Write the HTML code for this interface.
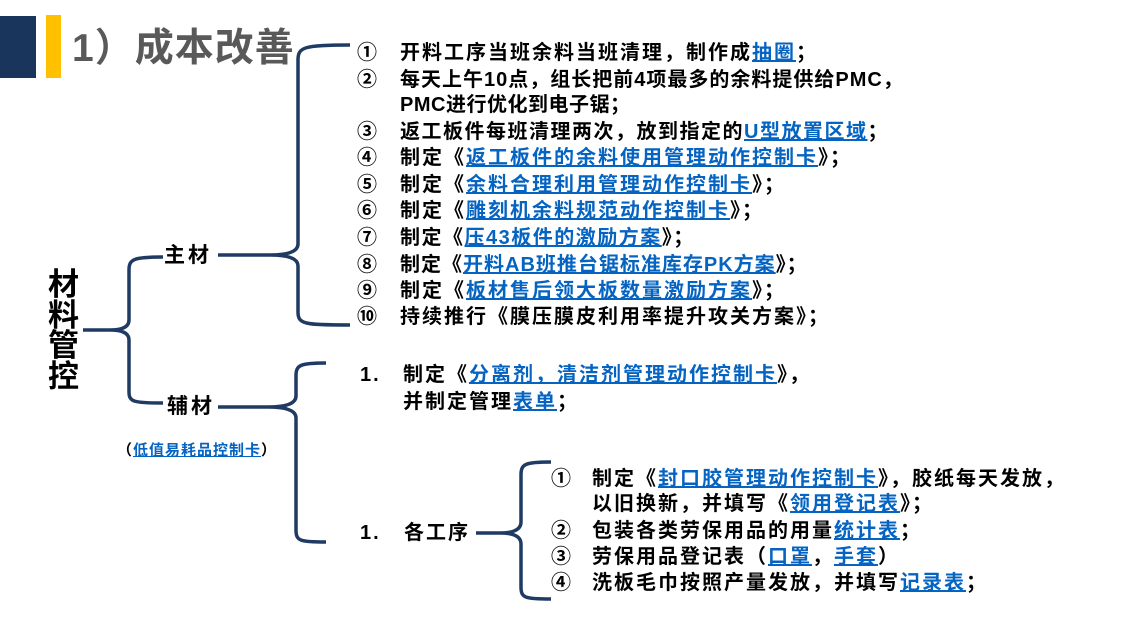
<!DOCTYPE html>
<html><head><meta charset="utf-8"><style>
body{margin:0;width:1139px;height:630px;background:#fff;position:relative;overflow:hidden;font-family:"Liberation Sans","Noto Sans CJK SC",sans-serif;}
.t{position:absolute;font-weight:bold;font-size:20px;line-height:26px;color:#000;white-space:nowrap;letter-spacing:2px;}
a{color:#0563c1;text-decoration:underline;}
.n{position:absolute;font-size:20px;line-height:26px;font-weight:bold;}
</style></head><body>
<div style="position:absolute;left:0;top:16px;width:36px;height:62px;background:#1a355c"></div>
<div style="position:absolute;left:46px;top:15px;width:15px;height:63px;background:#ffc000"></div>
<div style="position:absolute;left:72px;top:25px;font-size:39px;line-height:48px;color:#595959;font-weight:bold;white-space:nowrap;letter-spacing:1px">1）成本改善</div>
<svg width="1139" height="630" style="position:absolute;left:0;top:0" fill="none" stroke="#1f3a63" stroke-width="3.5">
<path d="M163,257 C134,257 129,259 129,270 L129,320 Q129,330 110,330 L83,330 M110,330 Q129,330 129,340 L129,392 C129,402 134,403 163,403"/>
<path d="M350,45 C304,45 298,47 298,60 L298,244 Q298,255 270,255 L218,255 M270,255 Q298,255 298,266 L298,312 C298,324 304,325 350,325"/>
<path d="M326,363 C300,363 296,365 296,376 L296,396 Q296,407 268,407 L218,407 M268,407 Q296,407 296,418 L296,530 C296,541 300,542 326,542"/>
<path d="M551,462 C525,462 521,464 521,475 L521,522 Q521,533 500,533 L476,533 M500,533 Q521,533 521,544 L521,587 C521,598 525,599 551,599"/>
</svg>
<div style="position:absolute;left:48px;top:270px;font-size:31px;line-height:30.5px;width:32px;color:#000;font-weight:bold">材<br>料<br>管<br>控</div>
<div class="t" style="left:164px;top:243px;letter-spacing:3px;font-size:21px">主材</div>
<div class="t" style="left:167px;top:394px;letter-spacing:3px;font-size:21px">辅材</div>
<div class="t" style="left:117px;top:438px;font-size:15px;letter-spacing:1px">（<a>低值易耗品控制卡</a>）</div>

<div class="n" style="left:357px;top:40px">①</div><div class="t" style="left:400px;top:40px">开料工序当班余料当班清理，制作成<a>抽圈</a>；</div>
<div class="n" style="left:357px;top:67px">②</div><div class="t" style="left:400px;top:67px;letter-spacing:1px">每天上午10点，组长把前4项最多的余料提供给PMC，</div>
<div class="t" style="left:400px;top:92px;letter-spacing:0.5px">PMC进行优化到电子锯；</div>
<div class="n" style="left:357px;top:119px">③</div><div class="t" style="left:400px;top:119px;letter-spacing:1.5px">返工板件每班清理两次，放到指定的<a>U型放置区域</a>；</div>
<div class="n" style="left:357px;top:145px">④</div><div class="t" style="left:400px;top:145px">制定《<a>返工板件的余料使用管理动作控制卡</a>》；</div>
<div class="n" style="left:357px;top:172px">⑤</div><div class="t" style="left:400px;top:172px">制定《<a>余料合理利用管理动作控制卡</a>》；</div>
<div class="n" style="left:357px;top:198px">⑥</div><div class="t" style="left:400px;top:198px">制定《<a>雕刻机余料规范动作控制卡</a>》；</div>
<div class="n" style="left:357px;top:225px">⑦</div><div class="t" style="left:400px;top:225px;letter-spacing:1.5px">制定《<a>压43板件的激励方案</a>》；</div>
<div class="n" style="left:357px;top:252px">⑧</div><div class="t" style="left:400px;top:252px;letter-spacing:1px">制定《<a>开料AB班推台锯标准库存PK方案</a>》；</div>
<div class="n" style="left:357px;top:278px">⑨</div><div class="t" style="left:400px;top:278px">制定《<a>板材售后领大板数量激励方案</a>》；</div>
<div class="n" style="left:357px;top:304px">⑩</div><div class="t" style="left:400px;top:304px">持续推行《膜压膜皮利用率提升攻关方案》；</div>

<div class="t" style="left:360px;top:362px">1.</div><div class="t" style="left:403px;top:362px">制定《<a>分离剂，清洁剂管理动作控制卡</a>》，</div>
<div class="t" style="left:403px;top:389px">并制定管理<a>表单</a>；</div>
<div class="t" style="left:360px;top:520px">1.</div><div class="t" style="left:404px;top:520px;letter-spacing:2px">各工序</div>

<div class="n" style="left:551px;top:466px">①</div><div class="t" style="left:592px;top:466px">制定《<a>封口胶管理动作控制卡</a>》，胶纸每天发放，</div>
<div class="t" style="left:592px;top:491px">以旧换新，并填写《<a>领用登记表</a>》；</div>
<div class="n" style="left:551px;top:518px">②</div><div class="t" style="left:592px;top:518px">包装各类劳保用品的用量<a>统计表</a>；</div>
<div class="n" style="left:551px;top:544px">③</div><div class="t" style="left:592px;top:544px">劳保用品登记表（<a>口罩</a>，<a>手套</a>）</div>
<div class="n" style="left:551px;top:570px">④</div><div class="t" style="left:592px;top:570px">洗板毛巾按照产量发放，并填写<a>记录表</a>；</div>
</body></html>
